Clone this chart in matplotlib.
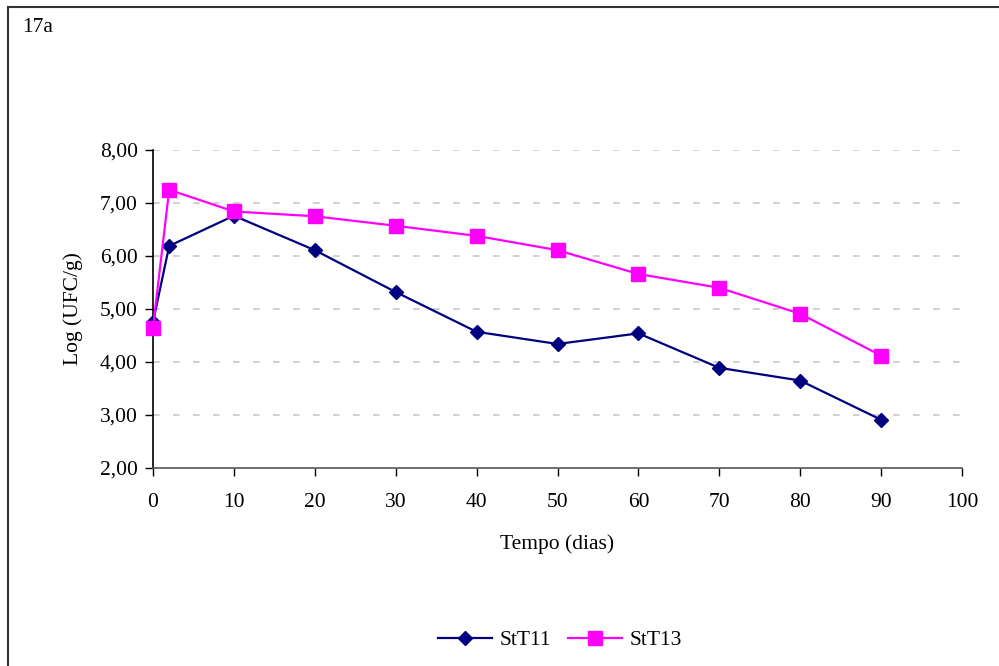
import numpy as np
import matplotlib
matplotlib.use("Agg")
import matplotlib.pyplot as plt
from matplotlib.lines import Line2D
from matplotlib.ticker import FuncFormatter

plt.rcParams["font.family"] = ["Liberation Serif", "DejaVu Serif"]

# tempo (dias) e contagens Log (UFC/g)
dias = [0, 2, 10, 20, 30, 40, 50, 60, 70, 80, 90]
stt11 = [4.75, 6.19, 6.76, 6.11, 5.32, 4.57, 4.34, 4.54, 3.89, 3.65, 2.91]
stt13 = [4.65, 7.25, 6.84, 6.75, 6.57, 6.38, 6.11, 5.66, 5.40, 4.91, 4.12]

W, H = 999, 666
FS = 15.5
fig = plt.figure(figsize=(W / 100, H / 100), dpi=100)
ax = fig.add_axes([153 / W, 1 - 468 / H, (962 - 153) / W, (468 - 150) / H])

ax.plot(dias, stt11, color="#000080", lw=1.6, marker="D", ms=7.5,
        mfc="#000080", mec="#000080", label="StT11", clip_on=False, zorder=3)
ax.plot(dias, stt13, color="#FF00FF", lw=1.6, marker="s", ms=9.5,
        mfc="#FF00FF", mec="#FF00FF", label="StT13", clip_on=False, zorder=3)

ax.set_xlim(0, 100)
ax.set_ylim(2, 8)
ax.set_xticks(np.arange(0, 101, 10))
ax.set_yticks(np.arange(2, 8.01, 1))
ax.yaxis.set_major_formatter(FuncFormatter(lambda v, p: f"{v:.2f}".replace(".", ",")))

for yv in range(3, 9):
    ax.axhline(yv, color="#c8c8c8", lw=1.2, ls=(0, (4, 8)), zorder=1)

for s in ["top", "right"]:
    ax.spines[s].set_visible(False)
ax.spines["left"].set_color("black")
ax.spines["bottom"].set_color("#555555")
ax.spines["left"].set_linewidth(1.2)
ax.spines["bottom"].set_linewidth(1.2)
ax.tick_params(axis="both", direction="out", length=6, width=1.0, labelsize=FS)
ax.tick_params(axis="y", pad=5)
ax.tick_params(axis="x", pad=12)

ax.set_xlabel("Tempo (dias)", fontsize=FS, labelpad=16)
ax.set_ylabel("Log (UFC/g)", fontsize=FS, labelpad=12)

fig.legend(handles=ax.get_lines(), labels=["StT11", "StT13"], loc="center",
           bbox_to_anchor=(560 / W, 1 - 640 / H), ncol=2, frameon=False,
           fontsize=FS, handlelength=2.5, columnspacing=0.8, handletextpad=0.35)

fig.text(22 / W, 1 - 27 / H, "17a", fontsize=FS, ha="left", va="center")

# moldura externa (esquerda e topo)
fig.add_artist(Line2D([8 / W, 8 / W], [0, 1 - 7 / H], color="#333333", lw=1.5,
                      transform=fig.transFigure))
fig.add_artist(Line2D([8 / W, 1], [1 - 7 / H, 1 - 7 / H], color="#333333", lw=1.5,
                      transform=fig.transFigure))

fig.savefig("out.png", dpi=100)
